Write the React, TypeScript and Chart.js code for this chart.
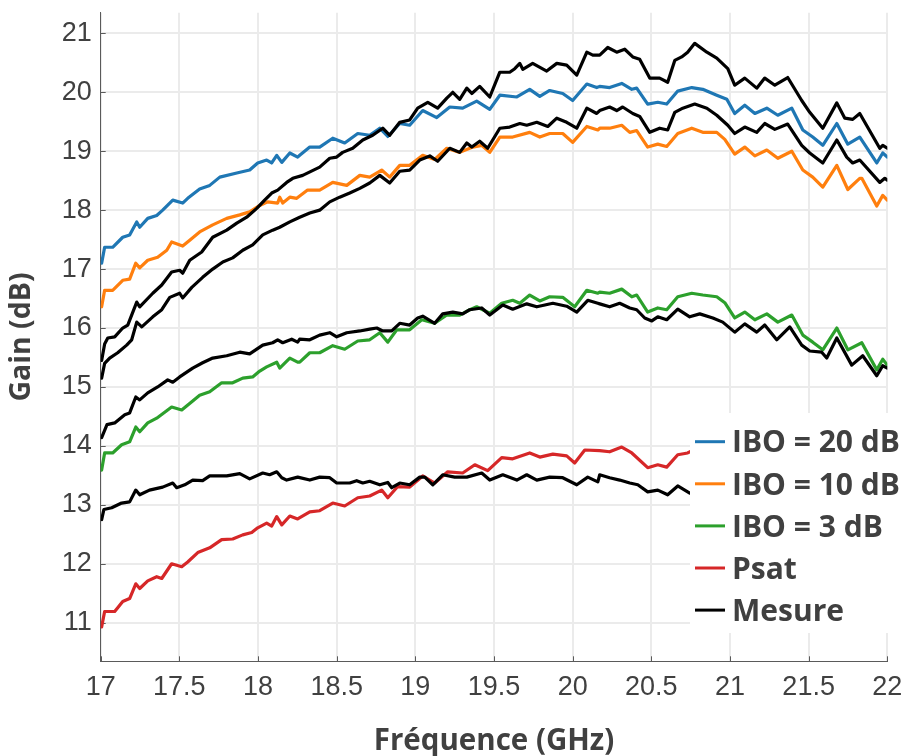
import React, { useEffect, useRef } from "react";
import { Chart, registerables } from "chart.js";

Chart.register(...registerables);

// ---- Axis ticks ----
const xTickValues = [17, 17.5, 18, 18.5, 19, 19.5, 20, 20.5, 21, 21.5, 22];
const yTickValues = [11, 12, 13, 14, 15, 16, 17, 18, 19, 20, 21];

// ---- Series: [frequency GHz, gain dB] ----
const ibo20: [number, number][] = [
  [17.006,17.1],[17.025,17.37],[17.076,17.37],[17.14,17.54],[17.184,17.58],[17.229,17.8],[17.248,17.71],[17.299,17.86],[17.356,17.91],[17.394,18.0],[17.458,18.17],[17.521,18.12],[17.553,18.2],[17.629,18.36],[17.693,18.42],[17.757,18.56],[17.865,18.63],[17.947,18.68],[17.998,18.8],[18.055,18.85],[18.087,18.8],[18.119,18.93],[18.151,18.81],[18.202,18.97],[18.252,18.9],[18.265,18.93],[18.329,19.07],[18.392,19.07],[18.475,19.22],[18.551,19.14],[18.634,19.3],[18.71,19.27],[18.774,19.39],[18.825,19.25],[18.901,19.47],[18.964,19.44],[19.047,19.69],[19.136,19.57],[19.219,19.75],[19.301,19.73],[19.39,19.85],[19.473,19.71],[19.537,19.95],[19.645,19.92],[19.727,20.05],[19.791,19.93],[19.854,20.03],[19.937,19.98],[20.0,19.86],[20.09,20.14],[20.153,20.08],[20.172,20.1],[20.235,20.08],[20.312,20.15],[20.376,20.05],[20.407,20.07],[20.477,19.8],[20.541,19.83],[20.598,19.8],[20.668,20.02],[20.757,20.08],[20.827,20.05],[20.916,19.95],[20.98,19.88],[21.03,19.64],[21.094,19.78],[21.158,19.64],[21.234,19.73],[21.304,19.61],[21.393,19.73],[21.463,19.36],[21.526,19.24],[21.59,19.1],[21.679,19.47],[21.749,19.12],[21.825,19.24],[21.933,18.8],[21.971,18.97],[22.0,18.9],
];

const ibo10: [number, number][] = [
  [17.006,16.36],[17.025,16.64],[17.076,16.64],[17.14,16.81],[17.184,16.83],[17.223,17.1],[17.248,17.02],[17.299,17.15],[17.362,17.2],[17.42,17.32],[17.451,17.46],[17.521,17.39],[17.566,17.49],[17.629,17.63],[17.712,17.75],[17.801,17.86],[17.884,17.92],[17.947,17.97],[18.011,18.08],[18.061,18.14],[18.125,18.12],[18.138,18.22],[18.157,18.12],[18.202,18.22],[18.246,18.2],[18.315,18.34],[18.392,18.34],[18.475,18.47],[18.564,18.42],[18.647,18.59],[18.71,18.56],[18.786,18.68],[18.837,18.56],[18.901,18.76],[18.964,18.76],[19.047,18.93],[19.123,18.86],[19.2,19.05],[19.282,18.98],[19.365,19.07],[19.422,19.1],[19.473,18.98],[19.537,19.24],[19.619,19.24],[19.727,19.32],[19.791,19.24],[19.854,19.3],[19.937,19.3],[20.0,19.15],[20.09,19.42],[20.16,19.36],[20.172,19.39],[20.235,19.39],[20.312,19.44],[20.363,19.32],[20.407,19.35],[20.477,19.07],[20.541,19.12],[20.598,19.08],[20.668,19.3],[20.757,19.39],[20.827,19.32],[20.916,19.32],[20.967,19.2],[21.03,18.95],[21.094,19.07],[21.158,18.92],[21.234,19.02],[21.304,18.88],[21.393,19.0],[21.463,18.68],[21.526,18.56],[21.59,18.39],[21.679,18.76],[21.749,18.35],[21.825,18.54],[21.838,18.54],[21.933,18.07],[21.971,18.25],[22.0,18.17],
];

const ibo3: [number, number][] = [
  [17.006,13.59],[17.025,13.88],[17.076,13.88],[17.133,14.02],[17.184,14.07],[17.223,14.32],[17.248,14.24],[17.299,14.39],[17.356,14.47],[17.451,14.66],[17.515,14.61],[17.579,14.75],[17.629,14.86],[17.693,14.92],[17.769,15.07],[17.839,15.07],[17.903,15.15],[17.966,15.17],[18.011,15.27],[18.055,15.34],[18.119,15.42],[18.138,15.32],[18.202,15.49],[18.252,15.42],[18.265,15.42],[18.329,15.58],[18.392,15.58],[18.475,15.7],[18.551,15.64],[18.634,15.78],[18.71,15.8],[18.774,15.92],[18.825,15.76],[18.882,15.97],[18.964,15.97],[19.041,16.14],[19.123,16.08],[19.2,16.22],[19.282,16.22],[19.346,16.31],[19.39,16.36],[19.473,16.25],[19.549,16.42],[19.619,16.47],[19.664,16.42],[19.727,16.56],[19.791,16.46],[19.854,16.53],[19.937,16.52],[20.013,16.36],[20.09,16.64],[20.16,16.59],[20.172,16.61],[20.235,16.59],[20.312,16.66],[20.376,16.53],[20.407,16.56],[20.477,16.27],[20.541,16.34],[20.598,16.31],[20.668,16.53],[20.757,16.59],[20.827,16.56],[20.916,16.53],[20.967,16.43],[21.03,16.17],[21.094,16.27],[21.158,16.14],[21.234,16.24],[21.304,16.1],[21.393,16.22],[21.463,15.88],[21.526,15.76],[21.59,15.63],[21.679,16.0],[21.749,15.63],[21.838,15.75],[21.933,15.29],[21.971,15.47],[22.0,15.37],
];

const psat: [number, number][] = [
  [17.006,10.93],[17.025,11.19],[17.089,11.19],[17.14,11.36],[17.184,11.41],[17.223,11.66],[17.248,11.58],[17.299,11.71],[17.356,11.78],[17.388,11.75],[17.451,12.0],[17.515,11.95],[17.553,12.03],[17.617,12.19],[17.693,12.27],[17.769,12.41],[17.839,12.42],[17.903,12.49],[17.96,12.53],[17.998,12.61],[18.055,12.69],[18.087,12.64],[18.119,12.8],[18.151,12.66],[18.202,12.81],[18.252,12.76],[18.329,12.88],[18.392,12.9],[18.475,13.03],[18.551,12.98],[18.634,13.12],[18.71,13.15],[18.786,13.25],[18.825,13.12],[18.888,13.31],[18.964,13.3],[19.047,13.49],[19.123,13.37],[19.206,13.56],[19.301,13.54],[19.378,13.68],[19.46,13.58],[19.549,13.8],[19.619,13.78],[19.727,13.88],[19.791,13.81],[19.874,13.86],[19.962,13.83],[20.013,13.71],[20.077,13.93],[20.172,13.92],[20.235,13.9],[20.312,13.98],[20.376,13.88],[20.477,13.63],[20.541,13.68],[20.598,13.64],[20.668,13.85],[20.731,13.88],[20.744,13.9],
];

// Measured curves (Mesure)
const mesure20: [number, number][] = [
  [17.006,15.45],[17.025,15.73],[17.045,15.83],[17.089,15.85],[17.14,16.0],[17.172,16.05],[17.229,16.44],[17.248,16.36],[17.331,16.59],[17.388,16.73],[17.451,16.95],[17.502,16.98],[17.521,16.93],[17.566,17.15],[17.642,17.29],[17.712,17.54],[17.801,17.66],[17.865,17.78],[17.928,17.88],[17.992,18.03],[18.042,18.17],[18.087,18.29],[18.125,18.34],[18.182,18.47],[18.221,18.54],[18.284,18.59],[18.392,18.73],[18.456,18.88],[18.5,18.9],[18.538,18.98],[18.602,19.05],[18.666,19.19],[18.729,19.27],[18.793,19.39],[18.837,19.27],[18.901,19.49],[18.964,19.53],[19.015,19.73],[19.079,19.83],[19.142,19.73],[19.2,19.9],[19.238,20.0],[19.282,19.88],[19.327,20.07],[19.359,19.98],[19.409,20.1],[19.473,19.92],[19.537,20.34],[19.6,20.34],[19.632,20.4],[19.664,20.49],[19.683,20.39],[19.746,20.49],[19.835,20.36],[19.899,20.49],[19.962,20.46],[20.026,20.29],[20.09,20.68],[20.128,20.63],[20.172,20.63],[20.223,20.76],[20.28,20.68],[20.331,20.73],[20.382,20.6],[20.426,20.56],[20.49,20.24],[20.553,20.24],[20.604,20.17],[20.649,20.54],[20.693,20.6],[20.731,20.68],[20.776,20.83],[20.853,20.68],[20.916,20.58],[20.986,20.4],[21.03,20.12],[21.094,20.24],[21.17,20.07],[21.221,20.24],[21.285,20.12],[21.367,20.25],[21.456,19.86],[21.507,19.66],[21.59,19.39],[21.679,19.82],[21.73,19.56],[21.78,19.54],[21.825,19.64],[21.952,19.05],[21.971,19.1],[22.0,19.05],
];

const mesure10: [number, number][] = [
  [17.006,15.15],[17.025,15.4],[17.057,15.49],[17.108,15.58],[17.165,15.71],[17.197,15.8],[17.229,16.1],[17.261,16.02],[17.331,16.19],[17.388,16.31],[17.439,16.52],[17.502,16.59],[17.521,16.51],[17.579,16.69],[17.648,16.86],[17.712,17.0],[17.776,17.12],[17.839,17.19],[17.903,17.32],[17.966,17.41],[18.03,17.58],[18.093,17.66],[18.138,17.71],[18.202,17.8],[18.265,17.88],[18.329,17.95],[18.392,18.0],[18.456,18.14],[18.519,18.22],[18.583,18.29],[18.647,18.37],[18.71,18.46],[18.774,18.59],[18.837,18.46],[18.901,18.66],[18.964,18.68],[19.028,18.85],[19.092,18.92],[19.142,18.83],[19.219,19.05],[19.282,18.98],[19.327,19.14],[19.359,19.07],[19.409,19.17],[19.46,19.05],[19.537,19.39],[19.6,19.41],[19.664,19.47],[19.708,19.44],[19.772,19.49],[19.842,19.42],[19.899,19.56],[19.962,19.49],[20.026,19.39],[20.09,19.73],[20.153,19.64],[20.172,19.69],[20.235,19.75],[20.28,19.69],[20.318,19.75],[20.382,19.64],[20.426,19.59],[20.49,19.32],[20.553,19.39],[20.604,19.36],[20.649,19.66],[20.7,19.73],[20.776,19.8],[20.853,19.73],[20.916,19.61],[20.986,19.44],[21.03,19.3],[21.094,19.41],[21.17,19.32],[21.221,19.47],[21.285,19.37],[21.367,19.46],[21.456,19.1],[21.507,18.97],[21.59,18.8],[21.679,19.19],[21.742,18.9],[21.78,18.8],[21.825,18.85],[21.952,18.47],[21.984,18.54],[22.0,18.51],
];

const mesure3: [number, number][] = [
  [17.006,14.14],[17.04,14.36],[17.089,14.39],[17.153,14.53],[17.184,14.56],[17.223,14.83],[17.248,14.78],[17.299,14.9],[17.362,15.0],[17.426,15.12],[17.458,15.08],[17.502,15.17],[17.585,15.32],[17.648,15.41],[17.712,15.49],[17.801,15.53],[17.884,15.59],[17.947,15.56],[18.03,15.71],[18.093,15.75],[18.125,15.8],[18.157,15.75],[18.214,15.81],[18.252,15.76],[18.265,15.81],[18.329,15.8],[18.392,15.88],[18.456,15.92],[18.5,15.85],[18.564,15.92],[18.647,15.95],[18.71,15.98],[18.755,16.0],[18.793,15.95],[18.85,15.95],[18.901,16.08],[18.964,16.05],[19.015,16.17],[19.047,16.2],[19.123,16.08],[19.174,16.24],[19.238,16.27],[19.301,16.24],[19.346,16.31],[19.422,16.34],[19.473,16.22],[19.556,16.39],[19.619,16.32],[19.708,16.41],[19.772,16.36],[19.874,16.42],[19.962,16.37],[20.026,16.27],[20.096,16.47],[20.16,16.42],[20.172,16.41],[20.235,16.36],[20.299,16.42],[20.363,16.34],[20.407,16.31],[20.458,16.17],[20.503,16.12],[20.541,16.19],[20.598,16.14],[20.668,16.32],[20.744,16.19],[20.808,16.24],[20.891,16.17],[20.954,16.1],[21.03,15.93],[21.094,16.07],[21.17,15.93],[21.221,16.05],[21.297,15.8],[21.38,16.02],[21.456,15.71],[21.507,15.61],[21.583,15.59],[21.615,15.49],[21.679,15.83],[21.774,15.37],[21.844,15.53],[21.933,15.19],[21.971,15.36],[22.0,15.32],
];

const mesureSat: [number, number][] = [
  [17.006,12.75],[17.02,12.92],[17.07,12.95],[17.133,13.03],[17.184,13.05],[17.223,13.25],[17.248,13.17],[17.31,13.25],[17.394,13.3],[17.458,13.37],[17.483,13.29],[17.534,13.34],[17.585,13.42],[17.648,13.41],[17.693,13.49],[17.801,13.49],[17.884,13.53],[17.947,13.44],[18.03,13.54],[18.074,13.51],[18.119,13.56],[18.151,13.46],[18.182,13.42],[18.252,13.47],[18.329,13.42],[18.392,13.47],[18.456,13.46],[18.5,13.37],[18.583,13.37],[18.627,13.41],[18.666,13.37],[18.71,13.4],[18.774,13.34],[18.825,13.38],[18.85,13.29],[18.901,13.37],[18.964,13.34],[19.028,13.47],[19.06,13.47],[19.111,13.34],[19.174,13.51],[19.25,13.47],[19.327,13.47],[19.422,13.54],[19.473,13.42],[19.556,13.51],[19.645,13.42],[19.708,13.51],[19.772,13.42],[19.854,13.47],[19.937,13.46],[20.026,13.34],[20.096,13.47],[20.16,13.39],[20.172,13.51],[20.235,13.46],[20.299,13.42],[20.363,13.37],[20.414,13.34],[20.477,13.22],[20.541,13.25],[20.604,13.17],[20.668,13.32],[20.744,13.2],
];

const seriesLabels = ["IBO = 20 dB", "IBO = 10 dB", "IBO = 3 dB", "Psat", "Mesure"];
const seriesColors = ["#1f77b4", "#ff7f0e", "#2ca02c", "#d62728", "#000000"];

const TEXT_COLOR = "#404040";

const innerTicksPlugin = {
  id: "innerTicks",
  beforeDatasetsDraw(chart: any) {
    const { ctx, chartArea, scales } = chart;
    ctx.save();
    ctx.strokeStyle = "#5a5a5a";
    ctx.lineWidth = 1;
    const len = 5;
    scales.x.ticks.forEach((t: any) => {
      const px = Math.round(scales.x.getPixelForValue(t.value)) + 0.5;
      ctx.beginPath();
      ctx.moveTo(px, chartArea.bottom);
      ctx.lineTo(px, chartArea.bottom - len);
      ctx.stroke();
    });
    scales.y.ticks.forEach((t: any) => {
      const py = Math.round(scales.y.getPixelForValue(t.value)) + 0.5;
      ctx.beginPath();
      ctx.moveTo(chartArea.left, py);
      ctx.lineTo(chartArea.left + len, py);
      ctx.stroke();
    });
    ctx.restore();
  },
};

const boxLegendPlugin = {
  id: "boxLegend",
  afterDatasetsDraw(chart: any) {
    const { ctx } = chart;
    const seen: string[] = [];
    const items: { label: string; color: string }[] = [];
    chart.data.datasets.forEach((ds: any) => {
      if (!seen.includes(ds.label)) {
        seen.push(ds.label);
        items.push({ label: ds.label, color: ds.borderColor });
      }
    });
    items.sort((a, b) => seriesLabels.indexOf(a.label) - seriesLabels.indexOf(b.label));
    const boxLeft = 690;
    const boxTop = 413;
    const boxW = 905 - boxLeft;
    const boxH = 220;
    ctx.save();
    ctx.fillStyle = "#ffffff";
    ctx.fillRect(boxLeft, boxTop, boxW, boxH);
    const fontSize = 30;
    ctx.font = `bold ${fontSize}px "Open Sans", "Noto Sans", sans-serif`;
    ctx.textAlign = "left";
    ctx.textBaseline = "alphabetic";
    const firstRow = 441.7;
    const rowGap = 42.1;
    items.forEach((it, i) => {
      const cy = firstRow + i * rowGap;
      ctx.strokeStyle = it.color;
      ctx.lineWidth = 3;
      ctx.beginPath();
      ctx.moveTo(695, cy);
      ctx.lineTo(725, cy);
      ctx.stroke();
      ctx.fillStyle = TEXT_COLOR;
      ctx.fillText(it.label, 732, cy + 0.357 * fontSize);
    });
    ctx.restore();
  },
};

export default function App() {
  const ref = useRef<HTMLCanvasElement>(null);

  useEffect(() => {
    if (!ref.current) return;
    const toPts = (arr: [number, number][]) => arr.map(([x, y]) => ({ x, y }));
    const mk = (labelIdx: number, arr: [number, number][], order: number) => ({
      label: seriesLabels[labelIdx],
      data: toPts(arr),
      borderColor: seriesColors[labelIdx],
      backgroundColor: seriesColors[labelIdx],
      borderWidth: 3.2,
      pointRadius: 0,
      pointHoverRadius: 0,
      tension: 0,
      fill: false,
      order,
      borderJoinStyle: "round" as const,
      borderCapStyle: "round" as const,
    });

    const chart = new Chart(ref.current, {
      type: "line",
      data: {
        datasets: [
          mk(0, ibo20, 1),
          mk(1, ibo10, 1),
          mk(2, ibo3, 1),
          mk(3, psat, 1),
          mk(4, mesure20, 0),
          mk(4, mesure10, 0),
          mk(4, mesure3, 0),
          mk(4, mesureSat, 0),
        ],
      },
      options: {
        animation: false,
        responsive: false,
        devicePixelRatio: 1,
        layout: { padding: { left: 0, right: 17.7, top: 12.7, bottom: 0 } },
        plugins: {
          legend: { display: false },
          tooltip: { enabled: false },
        },
        scales: {
          x: {
            type: "linear",
            min: 17,
            max: 22,
            afterBuildTicks: (s: any) => {
              s.ticks = xTickValues.map((v) => ({ value: v }));
            },
            afterFit: (s: any) => {
              s.height = 94.7;
              s.paddingLeft = 0;
              s.paddingRight = 0;
              s.paddingTop = 0;
              s.paddingBottom = 0;
            },
            ticks: {
              color: TEXT_COLOR,
              font: { family: '"Liberation Sans", Arial, sans-serif', size: 27 },
              padding: 10,
              maxRotation: 0,
              autoSkip: false,
              callback: (v: any) => String(v),
            },
            grid: { color: "#ebebeb", lineWidth: 2, drawTicks: false },
            border: { display: true, color: "#5a5a5a", width: 1 },
            title: {
              display: true,
              text: "Fréquence (GHz)",
              color: TEXT_COLOR,
              font: { family: '"Open Sans", "Noto Sans", sans-serif', size: 29.5, weight: "bold" },
              padding: { top: 0, bottom: -3 },
            },
          },
          y: {
            type: "linear",
            min: 10.345,
            max: 21.35,
            afterBuildTicks: (s: any) => {
              s.ticks = yTickValues.map((v) => ({ value: v }));
            },
            afterFit: (s: any) => {
              s.width = 100.7;
              s.paddingLeft = 0;
              s.paddingRight = 0;
              s.paddingTop = 0;
              s.paddingBottom = 0;
            },
            ticks: {
              color: TEXT_COLOR,
              font: { family: '"Liberation Sans", Arial, sans-serif', size: 27 },
              padding: 9,
              autoSkip: false,
              callback: (v: any) => String(v),
            },
            grid: { color: "#ebebeb", lineWidth: 2, drawTicks: false },
            border: { display: true, color: "#5a5a5a", width: 1 },
            title: {
              display: true,
              text: "Gain (dB)",
              color: TEXT_COLOR,
              font: { family: '"Open Sans", "Noto Sans", sans-serif', size: 28.5, weight: "bold" },
              padding: { top: 5, bottom: 0 },
            },
          },
        },
      },
      plugins: [innerTicksPlugin, boxLegendPlugin],
    });

    return () => chart.destroy();
  }, []);

  return (
    <div style={{ position: "absolute", left: 0, top: 0, width: 905, height: 756, background: "#ffffff" }}>
      <canvas ref={ref} width={905} height={756} style={{ display: "block", width: 905, height: 756 }} />
    </div>
  );
}
